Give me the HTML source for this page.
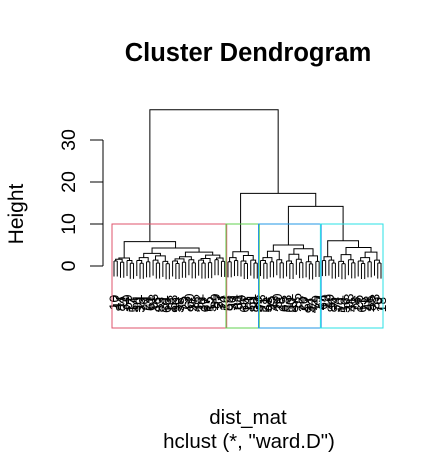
<!DOCTYPE html>
<html><head><meta charset="utf-8"><style>body{margin:0;background:#fff}svg{display:block}</style></head>
<body>
<svg id="c" width="446" height="457" xmlns="http://www.w3.org/2000/svg" font-family="Liberation Sans, sans-serif">
<text x="248" y="61" text-anchor="middle" font-size="25.5" font-weight="bold">Cluster Dendrogram</text>
<text transform="translate(23,214) rotate(-90)" text-anchor="middle" font-size="21">Height</text>
<text x="248" y="424" text-anchor="middle" font-size="20.5">dist_mat</text>
<text x="249" y="448" text-anchor="middle" font-size="20.5">hclust (*, "ward.D")</text>
<g id="axis"></g>
<g id="tree"></g>
<g id="labels"></g>
<g id="boxes"></g>
</svg>
<script>
const yTicks = [0, 10, 20, 30];
const g = (n, h) => n === 2 ? [h, 0, 0] : [h, 0, [h * 0.5, 0, 0]];
const redCluster = [5.8, [1.9, [1.6, g(2,1.2), g(2,0.9)], g(3,1.3)],
  [4.3, [3.0, [2.0, g(3,1.3), g(2,1.0)], [2.4, g(3,1.4), g(3,1.1)]],
        [3.3, [2.2, [1.7, g(3,1.2), g(2,0.9)], g(3,1.5)], [2.6, [1.8, g(3,1.4), g(2,0.8)], [1.9, g(2,1.5), g(2,1.1)]]]]];
const greenCluster = [3.4, [2.0, g(2,1.0), g(2,1.3)], [2.5, g(3,1.2), g(3,1.4)]];
const blueCluster = [5.0, [3.5, [2.0, g(3,1.3), g(2,1.0)], g(3,1.5)],
  [4.1, [2.8, g(3,1.2), g(3,1.6)], [2.4, g(3,1.0), g(2,1.1)]]];
const cyanCluster = [6.0, [2.2, g(2,1.3), g(3,1.4)],
  [4.4, [2.7, g(3,1.1), g(3,1.5)], [3.3, [2.0, g(3,1.2), g(2,1.0)], g(3,1.4)]]];
const topHeights = [37.2, 17.3, 14.2];
const clusters = [redCluster, greenCluster, blueCluster, cyanCluster];
const clusterColors = ['#DF536B', '#61D04F', '#2297E6', '#28E2E5'];
const root = [topHeights[0], redCluster, [topHeights[1], greenCluster, [topHeights[2], blueCluster, cyanCluster]]];

const NS = 'http://www.w3.org/2000/svg';
const y0 = 266, pxPerUnit = 4.2, hang = 3.7;
const yS = h => y0 - h * pxPerUnit;
function count(n){ return n === 0 ? 1 : count(n[1]) + count(n[2]); }
const N = count(root);
const x0 = 114, x1 = 381, step = (x1 - x0) / (N - 1);
const xS = i => x0 + i * step;
function mk(tag, attrs, parent){ const e = document.createElementNS(NS, tag); for (const k in attrs) e.setAttribute(k, attrs[k]); parent.appendChild(e); return e; }

const axis = document.getElementById('axis');
let l = mk('line', {x1:103, x2:103, y1:yS(yTicks[0]), y2:yS(yTicks[yTicks.length-1]) , stroke:'#000'}, axis);


yTicks.forEach(t => {
  const tk = mk('line', {x1:90, x2:103, y1:yS(t), y2:yS(t), stroke:'#000'}, axis);
  
  
  const tx = mk('text', {transform:`translate(75,${yS(t)}) rotate(-90)`, 'text-anchor':'middle', 'font-size':19.5}, axis);
  
  
  tx.textContent = t;
});

const tree = document.getElementById('tree');
const labels = document.getElementById('labels');
let leafIdx = 0;
function draw(node, parentH){
  if (node === 0) {
    const x = xS(leafIdx);
    const ln = mk('line', {x1:x, x2:x, y1:yS(parentH), y2:yS(parentH - hang), stroke:'#000'}, tree);
    
    
    const tx = mk('text', {transform:`translate(${x+5},${yS(parentH-hang)+26}) rotate(-90)`, 'text-anchor':'middle', 'font-size':14}, labels);
    
    
    tx.textContent = String(10 + (leafIdx * 37) % 89);
    leafIdx++;
    return {x, h: parentH - hang, leaf: true};
  }
  const h = node[0];
  const a = draw(node[1], h), b = draw(node[2], h);
  const p = mk('path', {d:`M${a.x},${a.leaf ? yS(h) : yS(a.h)}V${yS(h)}H${b.x}V${b.leaf ? yS(h) : yS(b.h)}`, fill:'none', stroke:'#000'}, tree);
  
  
  return {x:(a.x+b.x)/2, h};
}
draw(root);

const boxes = document.getElementById('boxes');
let start = 0;
clusters.forEach((c, i) => {
  const n = count(c);
  const xl = xS(start) - 2, xr = xS(start + n - 1) + 2;
  const r = mk('rect', {x:xl, y:224, width:xr - xl, height:104, fill:'none', stroke:clusterColors[i]}, boxes);
  
  
  start += n;
});
</script>
</body></html>
